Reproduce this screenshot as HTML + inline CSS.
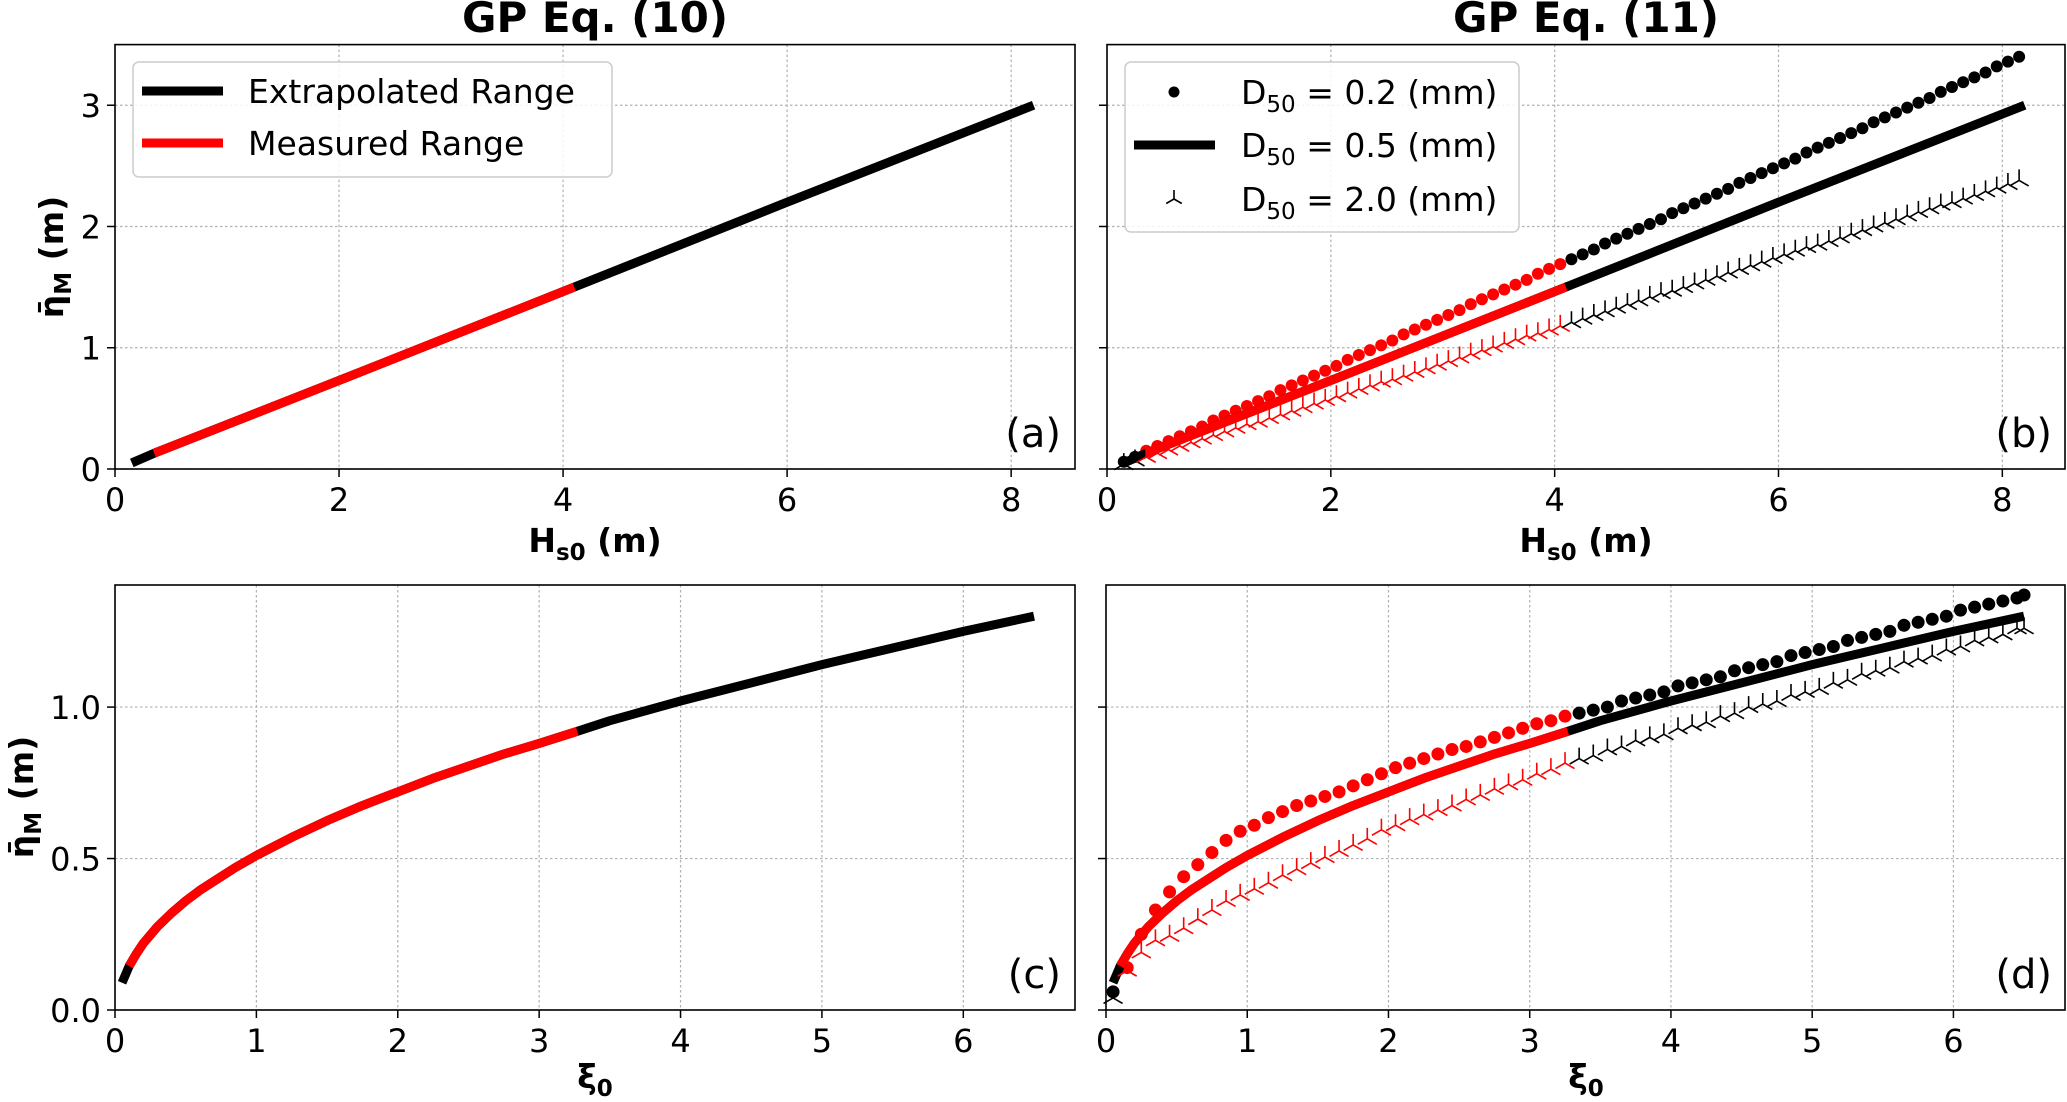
<!DOCTYPE html>
<html><head><meta charset="utf-8"><style>
html,body{margin:0;padding:0;background:#fff;}
svg{display:block;font-family:"DejaVu Sans","Liberation Sans",sans-serif;}
</style></head><body>
<svg id="fig" width="2067" height="1102" viewBox="0 0 2067 1102" xmlns="http://www.w3.org/2000/svg"></svg>
<script>
// ---- data ----
const measuredH = [0.35, 4.1];
const measuredXi = [0.1, 3.27];
const xTicksH = [0, 2, 4, 6, 8];
const yTicksTop = [0, 1, 2, 3];
const xTicksXi = [0, 1, 2, 3, 4, 5, 6];
const yTicksBot = [0, 0.5, 1.0];
const yTickLabelsBot = ["0.0", "0.5", "1.0"];

const lineH = [0.15, 0.35, 2, 4.1, 6, 8.2];
const lineEta = [0.05, 0.13, 0.73, 1.5, 2.2, 3.0];

const bX = [0.15,0.25,0.35,0.45,0.55,0.65,0.75,0.85,0.95,1.05,1.15,1.25,1.35,1.45,1.55,1.65,1.75,1.85,1.95,2.05,2.15,2.25,2.35,2.45,2.55,2.65,2.75,2.85,2.95,3.05,3.15,3.25,3.35,3.45,3.55,3.65,3.75,3.85,3.95,4.05,4.15,4.25,4.35,4.45,4.55,4.65,4.75,4.85,4.95,5.05,5.15,5.25,5.35,5.45,5.55,5.65,5.75,5.85,5.95,6.05,6.15,6.25,6.35,6.45,6.55,6.65,6.75,6.85,6.95,7.05,7.15,7.25,7.35,7.45,7.55,7.65,7.75,7.85,7.95,8.05,8.15];
const bD02 = [0.06,0.10,0.15,0.19,0.23,0.27,0.31,0.35,0.40,0.44,0.48,0.52,0.56,0.60,0.65,0.69,0.73,0.77,0.81,0.85,0.90,0.94,0.98,1.02,1.06,1.11,1.15,1.19,1.23,1.27,1.31,1.36,1.40,1.44,1.48,1.52,1.56,1.61,1.65,1.69,1.73,1.77,1.81,1.86,1.90,1.94,1.98,2.02,2.06,2.11,2.15,2.19,2.23,2.27,2.31,2.36,2.40,2.44,2.48,2.52,2.56,2.61,2.65,2.69,2.73,2.77,2.81,2.86,2.90,2.94,2.98,3.02,3.06,3.11,3.15,3.19,3.23,3.27,3.32,3.36,3.40];
const bD20 = [0.04,0.07,0.10,0.13,0.16,0.19,0.22,0.25,0.28,0.31,0.34,0.37,0.39,0.42,0.45,0.48,0.51,0.54,0.57,0.60,0.63,0.66,0.69,0.72,0.74,0.77,0.80,0.83,0.86,0.89,0.92,0.95,0.98,1.01,1.04,1.07,1.10,1.12,1.15,1.18,1.21,1.24,1.27,1.30,1.33,1.36,1.39,1.42,1.45,1.47,1.50,1.53,1.56,1.59,1.62,1.65,1.68,1.71,1.74,1.77,1.80,1.83,1.85,1.88,1.91,1.94,1.97,2.00,2.03,2.06,2.09,2.12,2.15,2.18,2.20,2.23,2.26,2.29,2.32,2.35,2.38];

const lineXi = [0.05,0.1,0.15,0.2,0.3,0.4,0.5,0.6,0.75,0.85,1,1.25,1.5,1.75,2,2.25,2.5,2.75,3,3.27,3.5,4,4.5,5,5.5,6,6.5];
const lineEtaXi = [0.09,0.145,0.185,0.22,0.275,0.32,0.36,0.395,0.44,0.47,0.51,0.57,0.625,0.675,0.72,0.765,0.805,0.845,0.88,0.92,0.955,1.02,1.08,1.14,1.195,1.25,1.30];

const dX = [0.05,0.15,0.25,0.35,0.45,0.55,0.65,0.75,0.85,0.95,1.05,1.15,1.25,1.35,1.45,1.55,1.65,1.75,1.85,1.95,2.05,2.15,2.25,2.35,2.45,2.55,2.65,2.75,2.85,2.95,3.05,3.15,3.25,3.35,3.45,3.55,3.65,3.75,3.85,3.95,4.05,4.15,4.25,4.35,4.45,4.55,4.65,4.75,4.85,4.95,5.05,5.15,5.25,5.35,5.45,5.55,5.65,5.75,5.85,5.95,6.05,6.15,6.25,6.35,6.45,6.5];
const dD02 = [0.06,0.14,0.25,0.33,0.39,0.44,0.48,0.52,0.56,0.59,0.61,0.635,0.655,0.675,0.69,0.705,0.72,0.74,0.76,0.78,0.80,0.815,0.83,0.845,0.86,0.87,0.885,0.90,0.915,0.93,0.945,0.955,0.97,0.98,0.99,1.00,1.02,1.03,1.04,1.05,1.07,1.08,1.09,1.10,1.12,1.13,1.14,1.15,1.17,1.18,1.19,1.20,1.22,1.23,1.24,1.25,1.27,1.28,1.29,1.30,1.32,1.33,1.34,1.35,1.36,1.37];
const dD20 = [0.04,0.13,0.19,0.23,0.245,0.27,0.30,0.33,0.36,0.38,0.40,0.42,0.445,0.465,0.485,0.505,0.525,0.545,0.565,0.595,0.61,0.63,0.645,0.66,0.675,0.695,0.71,0.73,0.745,0.76,0.78,0.795,0.815,0.83,0.84,0.86,0.87,0.89,0.90,0.91,0.93,0.94,0.95,0.97,0.98,1.00,1.01,1.02,1.04,1.05,1.06,1.08,1.09,1.11,1.12,1.13,1.15,1.16,1.17,1.19,1.20,1.22,1.23,1.24,1.26,1.26];

// ---- drawing ----
const NS = "http://www.w3.org/2000/svg";
const svg = document.getElementById('fig');
function mk(tag, attrs, parent, text) {
  const e = document.createElementNS(NS, tag);
  for (const k in attrs) e.setAttribute(k, attrs[k]);
  if (text !== undefined) e.textContent = text;
  (parent || svg).appendChild(e);
  return e;
}
function scale(d0, d1, r0, r1) { return v => r0 + (v - d0) / (d1 - d0) * (r1 - r0); }

const panels = {
  a: {L:115, R:1075, T:44.6, B:469, xmax:8.57, ymax:3.5},
  b: {L:1107, R:2065, T:44.6, B:469, xmax:8.56, ymax:3.5},
  c: {L:115, R:1075, T:585, B:1010, xmax:6.79, ymax:1.403},
  d: {L:1106, R:2065, T:585, B:1010, xmax:6.79, ymax:1.403}
};
for (const k in panels) {
  const p = panels[k];
  p.x = scale(0, p.xmax, p.L, p.R);
  p.y = scale(0, p.ymax, p.B, p.T);
}

function axes(key, xt, yt, ytl, showYLabels) {
  const p = panels[key];
  const g = mk('g', {});
  
  
  xt.forEach((v, i) => {
    const X = p.x(v);
    const gl = mk('line', {x1:X, x2:X, y1:p.T, y2:p.B, stroke:'#b0b0b0', 'stroke-width':1.2, 'stroke-dasharray':'2.5,2.5'}, g);
    
    
    mk('line', {x1:X, x2:X, y1:p.B, y2:p.B + 8, stroke:'#000', 'stroke-width':1.5}, g);
    const t = mk('text', {x:X, y:p.B + 42, 'text-anchor':'middle', 'font-size':32}, g, String(v));
    
    
  });
  yt.forEach((v, i) => {
    const Y = p.y(v);
    const gl = mk('line', {x1:p.L, x2:p.R, y1:Y, y2:Y, stroke:'#b0b0b0', 'stroke-width':1.2, 'stroke-dasharray':'2.5,2.5'}, g);
    
    
    mk('line', {x1:p.L - 8, x2:p.L, y1:Y, y2:Y, stroke:'#000', 'stroke-width':1.5}, g);
    if (showYLabels) {
      const t = mk('text', {x:p.L - 14, y:Y + 12, 'text-anchor':'end', 'font-size':32}, g, ytl ? ytl[i] : String(v));
      
      
    }
  });
  const fr = mk('rect', {x:p.L, y:p.T, width:p.R - p.L, height:p.B - p.T, fill:'none', stroke:'#000', 'stroke-width':1.6});
  
  
  p.frame = fr;
}

function drawLine(key, xs, ys, range, name) {
  const p = panels[key];
  const all = xs.map((v, i) => p.x(v) + ',' + p.y(ys[i])).join(' ');
  const l1 = mk('polyline', {points:all, fill:'none', stroke:'#000', 'stroke-width':9, 'stroke-linejoin':'round'});
  
  
  const red = [];
  xs.forEach((v, i) => { if (v >= range[0] && v <= range[1]) red.push(p.x(v) + ',' + p.y(ys[i])); });
  const l2 = mk('polyline', {points:red.join(' '), fill:'none', stroke:'#ff0000', 'stroke-width':9, 'stroke-linejoin':'round'});
  
  
}
function drawDots(key, xs, ys, range, name, r) {
  const p = panels[key];
  const g = mk('g', {});
  
  
  xs.forEach((v, i) => {
    const c = (v >= range[0] && v <= range[1]) ? '#ff0000' : '#000';
    const d = mk('circle', {cx:p.x(v), cy:p.y(ys[i]), r:r, fill:c}, g);
    
    
  });
}
function triPath(X, Y, s) {
  return `M${X},${Y} L${X},${Y - s} M${X},${Y} L${X - s * 0.866},${Y + s * 0.5} M${X},${Y} L${X + s * 0.866},${Y + s * 0.5}`;
}
function drawTris(key, xs, ys, range, name) {
  const p = panels[key];
  const g = mk('g', {});
  
  
  xs.forEach((v, i) => {
    const c = (v >= range[0] && v <= range[1]) ? '#ff0000' : '#000';
    const t = mk('path', {d:triPath(p.x(v), p.y(ys[i]), 11), stroke:c, 'stroke-width':1.6, fill:'none'}, g);
    
    
  });
}

axes('a', xTicksH, yTicksTop, null, true);
axes('b', xTicksH, yTicksTop, null, false);
axes('c', xTicksXi, yTicksBot, yTickLabelsBot, true);
axes('d', xTicksXi, yTicksBot, yTickLabelsBot, false);

drawLine('a', lineH, lineEta, measuredH, 'line-a');
drawDots('b', bX, bD02, measuredH, 'series-d50-0.2-b', 6);
drawLine('b', lineH, lineEta, measuredH, 'line-d50-0.5-b');
drawTris('b', bX, bD20, measuredH, 'series-d50-2.0-b');
drawLine('c', lineXi, lineEtaXi, measuredXi, 'line-c');
drawDots('d', dX, dD02, measuredXi, 'series-d50-0.2-d', 6.5);
drawLine('d', lineXi, lineEtaXi, measuredXi, 'line-d50-0.5-d');
drawTris('d', dX, dD20, measuredXi, 'series-d50-2.0-d');
for (const k in panels) svg.appendChild(panels[k].frame);
</script>
<script>
(function(){
const NS = "http://www.w3.org/2000/svg";
const svg = document.getElementById('fig');
function t(x, y, txt, attrs, name) {
  const e = document.createElementNS(NS, 'text');
  e.setAttribute('x', x); e.setAttribute('y', y);
  for (const k in attrs) e.setAttribute(k, attrs[k]);
  e.innerHTML = txt;
  
  
  svg.appendChild(e);
  return e;
}
t(595, 32, 'GP Eq. (10)', {'text-anchor':'middle','font-size':42,'font-weight':'bold'}, 'title-a');
t(1586, 32, 'GP Eq. (11)', {'text-anchor':'middle','font-size':42,'font-weight':'bold'}, 'title-b');
const hs = 'H<tspan font-size="23" dy="8">s0</tspan><tspan dy="-8"> (m)</tspan>';
t(595, 552, hs, {'text-anchor':'middle','font-size':33,'font-weight':'bold'}, 'x-axis-title-a');
t(1586, 552, hs, {'text-anchor':'middle','font-size':33,'font-weight':'bold'}, 'x-axis-title-b');
const xi = 'ξ<tspan font-size="23" dy="8">0</tspan>';
t(595, 1088, xi, {'text-anchor':'middle','font-size':33,'font-weight':'bold'}, 'x-axis-title-c');
t(1586, 1088, xi, {'text-anchor':'middle','font-size':33,'font-weight':'bold'}, 'x-axis-title-d');
const eta = 'η̄<tspan font-size="23" dy="8">M</tspan><tspan dy="-8"> (m)</tspan>';
t(0, 0, eta, {'text-anchor':'middle','font-size':33,'font-weight':'bold','transform':'translate(63,257) rotate(-90)'}, 'y-axis-title-a');
t(0, 0, eta, {'text-anchor':'middle','font-size':33,'font-weight':'bold','transform':'translate(33,797) rotate(-90)'}, 'y-axis-title-c');
t(1061, 447, '(a)', {'text-anchor':'end','font-size':40}, 'panel-label-a');
t(2052, 447, '(b)', {'text-anchor':'end','font-size':40}, 'panel-label-b');
t(1061, 988, '(c)', {'text-anchor':'end','font-size':40}, 'panel-label-c');
t(2052, 988, '(d)', {'text-anchor':'end','font-size':40}, 'panel-label-d');
})();
</script>
<script>
(function(){
const NS = "http://www.w3.org/2000/svg";
const svg = document.getElementById('fig');
function el(tag, a, p){ const e=document.createElementNS(NS,tag); for(const k in a) e.setAttribute(k,a[k]); (p||svg).appendChild(e); return e; }
const la = el('g', {});


el('rect', {x:133, y:62, width:479, height:115, rx:6, fill:'#fff', 'fill-opacity':0.85, stroke:'#cccccc', 'stroke-width':1.5}, la);
el('line', {x1:142, x2:223, y1:91, y2:91, stroke:'#000', 'stroke-width':9}, la);
el('line', {x1:142, x2:223, y1:143, y2:143, stroke:'#ff0000', 'stroke-width':9}, la);
const ta1 = el('text', {x:248, y:103, 'font-size':33}, la); ta1.textContent = 'Extrapolated Range';


const ta2 = el('text', {x:248, y:155, 'font-size':33}, la); ta2.textContent = 'Measured Range';


const lb = el('g', {});


el('rect', {x:1125, y:62, width:394, height:170, rx:6, fill:'#fff', 'fill-opacity':0.85, stroke:'#cccccc', 'stroke-width':1.5}, lb);
el('circle', {cx:1174, cy:92, r:5.5, fill:'#000'}, lb);
el('line', {x1:1134, x2:1215, y1:145, y2:145, stroke:'#000', 'stroke-width':9}, lb);
el('path', {d:'M1174,199 L1174,190 M1174,199 L1166.2,203.5 M1174,199 L1181.8,203.5', stroke:'#000', 'stroke-width':1.6, fill:'none'}, lb);
const labs = ['0.2','0.5','2.0']; const ys=[104,157,211];
labs.forEach((v,i)=>{
  const tx = el('text', {x:1241, y:ys[i], 'font-size':33}, lb);
  tx.innerHTML = 'D<tspan font-size="23" dy="8">50</tspan><tspan dy="-8"> = ' + v + ' (mm)</tspan>';
  
  
});
})();
</script>
</body></html>
